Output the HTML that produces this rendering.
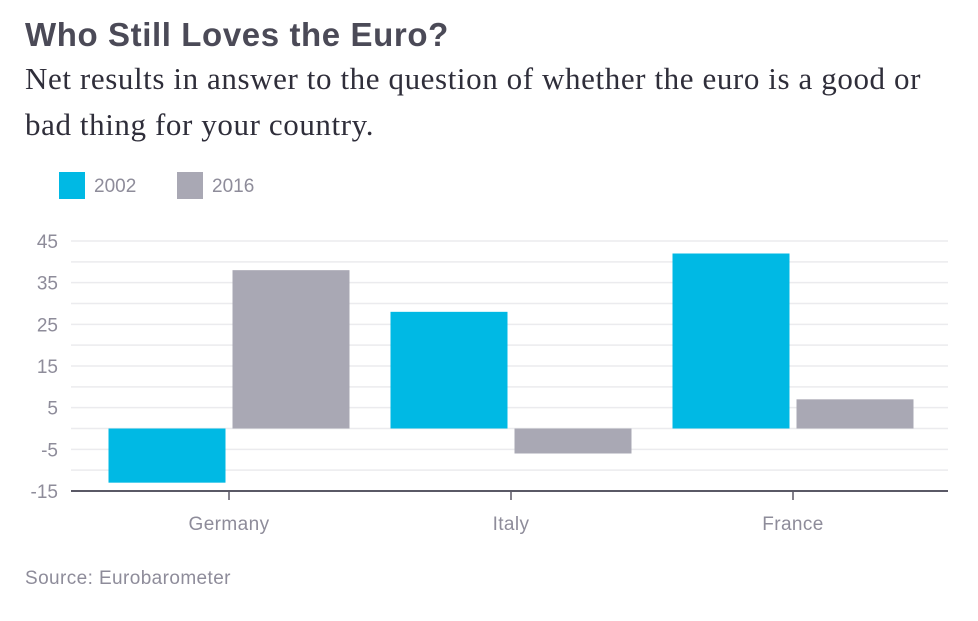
<!DOCTYPE html>
<html><head><meta charset="utf-8"><style>
body{margin:0;background:#fff;width:978px;height:621px;overflow:hidden;font-family:"Liberation Sans",sans-serif}
.title{position:absolute;left:25px;top:16px;font-size:33px;font-weight:bold;color:#4b4a57;letter-spacing:0.6px}
.sub{position:absolute;left:25px;top:56px;width:950px;font-family:"Liberation Serif",serif;font-size:31px;line-height:46px;color:#2f2e3a;white-space:nowrap;letter-spacing:0.6px}
.src{position:absolute;left:25px;top:568px;font-size:19px;color:#8e8c9a;letter-spacing:0.4px}
</style></head><body>
<div class="title">Who Still Loves the Euro?</div>
<div class="sub">Net results in answer to the question of whether the euro is a good or<br>bad thing for your country.</div>
<svg id="chart" width="978" height="621" style="position:absolute;left:0;top:0"></svg>
<div class="src">Source: Eurobarometer</div>
<script>
const categories=["Germany","Italy","France"];
const series2002=[-13,28,42];
const series2016=[38,-6,7];
const seriesNames=["2002","2016"];
const tickLabels=[45,35,25,15,5,-5,-15];
const NS="http://www.w3.org/2000/svg";
const svg=document.getElementById('chart');
const yMin=-15,yMax=45,plotTop=241,plotBot=491,plotLeft=71,plotRight=948;
const bandStart=88,bandEnd=934;
const yScale=v=>plotBot-(v-yMin)/(yMax-yMin)*(plotBot-plotTop);
const band=(bandEnd-bandStart)/categories.length;
const xScale=i=>bandStart+band*i+band/2;
function mk(t,a){const e=document.createElementNS(NS,t);for(const k in a)e.setAttribute(k,a[k]);svg.appendChild(e);return e;}
for(let v=yMin+5;v<=yMax;v+=5){
 const g=mk('line',{x1:plotLeft,x2:plotRight,y1:yScale(v),y2:yScale(v),stroke:'#ebebee','stroke-width':1.5});
 
 
}
tickLabels.forEach(v=>{
 const t=mk('text',{x:58,y:yScale(v)+7,'text-anchor':'end','font-size':19,fill:'#8e8c9a','font-family':'Liberation Sans, sans-serif'});
 t.textContent=v;
 
 
});
const colors=['#00b9e4','#a9a8b4'];
const bw=117,gap=7;
categories.forEach((c,i)=>{
 [series2002,series2016].forEach((s,j)=>{
  const v=s[i];
  const bx=j===0?xScale(i)-gap/2-bw:xScale(i)+gap/2;
  const r=mk('rect',{x:bx,y:Math.min(yScale(v),yScale(0)),width:bw,height:Math.abs(yScale(v)-yScale(0)),fill:colors[j]});
  
  
 });
 const tk=mk('line',{x1:xScale(i),x2:xScale(i),y1:plotBot,y2:plotBot+9,stroke:'#5a5966','stroke-width':1.5});
 
 
 const t=mk('text',{x:xScale(i),y:530,'text-anchor':'middle','font-size':19,fill:'#8e8c9a','font-family':'Liberation Sans, sans-serif','letter-spacing':0.4});
 t.textContent=c;
 
 
});
const ax=mk('line',{x1:plotLeft,x2:plotRight,y1:plotBot,y2:plotBot,stroke:'#5a5966','stroke-width':2});


const lx=[59,177];
seriesNames.forEach((n,j)=>{
 const r=mk('rect',{x:lx[j],y:172,width:26,height:27,fill:colors[j]});
 
 
 const t=mk('text',{x:lx[j]+35,y:192,'font-size':19,fill:'#8e8c9a','font-family':'Liberation Sans, sans-serif'});
 t.textContent=n;
 
 
});
</script>
</body></html>
